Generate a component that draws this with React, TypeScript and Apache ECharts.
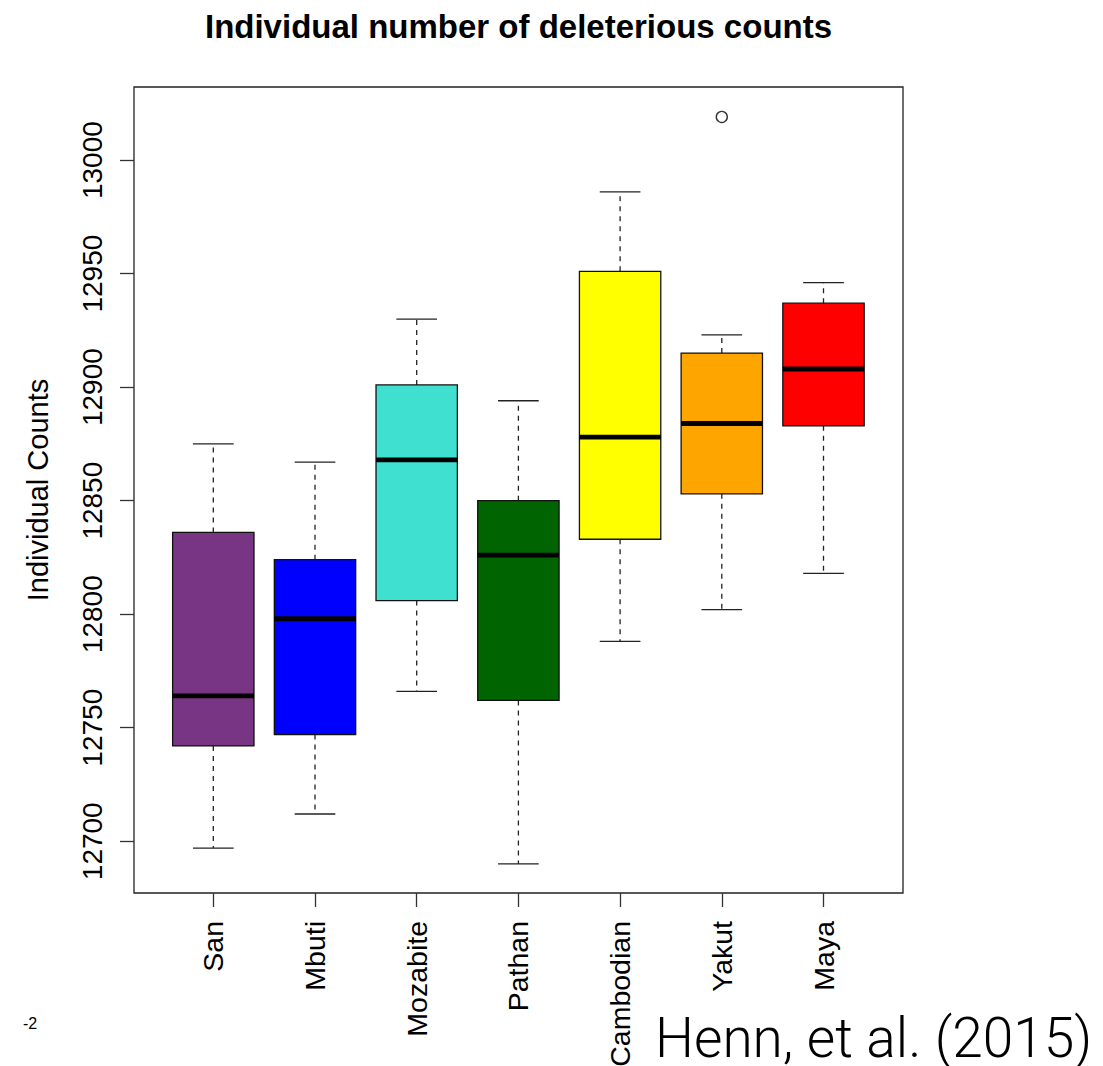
import React, { useEffect, useRef } from "react";
import * as echarts from "echarts";

const categories = ["San", "Mbuti", "Mozabite", "Pathan", "Cambodian", "Yakut", "Maya"];
const lowWhisker = [12697, 12712, 12766, 12690, 12788, 12802, 12818];
const q1Values = [12742, 12747, 12806, 12762, 12833, 12853, 12883];
const medianValues = [12764, 12798, 12868, 12826, 12878, 12884, 12908];
const q3Values = [12836, 12824, 12901, 12850, 12951, 12915, 12937];
const highWhisker = [12875, 12867, 12930, 12894, 12986, 12923, 12946];
const boxColors = ["#783584", "#0000FF", "#40E0D0", "#006400", "#FFFF00", "#FFA500", "#FF0000"];
const outliers: [string, number][] = [["Yakut", 13019]];
const yTicks = [12700, 12750, 12800, 12850, 12900, 12950, 13000];
const yMin = 12677.2;
const yMax = 13032.2;

const FONT = "Liberation Sans, Arial, Helvetica, sans-serif";

export default function App() {
  const ref = useRef<HTMLDivElement>(null);

  useEffect(() => {
    document.body.style.margin = "0";
    const chart = echarts.init(ref.current!, null, { renderer: "svg" });

    const boxData = categories.map((_, i) => [
      i,
      lowWhisker[i],
      q1Values[i],
      medianValues[i],
      q3Values[i],
      highWhisker[i],
    ]);

    const renderItem = (params: any, api: any) => {
      const idx = api.value(0);
      const lo = api.coord([idx, api.value(1)]);
      const q1 = api.coord([idx, api.value(2)]);
      const md = api.coord([idx, api.value(3)]);
      const q3 = api.coord([idx, api.value(4)]);
      const hi = api.coord([idx, api.value(5)]);
      const band = api.size([1, 0])[0];
      const bw = band * 0.8;
      const cw = bw * 0.5;
      const cx = lo[0];
      const color = boxColors[params.dataIndex];
      const lineStyle = { stroke: "#222", lineWidth: 1.3 };
      return {
        type: "group",
        children: [
          {
            type: "line",
            shape: { x1: cx, y1: q3[1], x2: cx, y2: hi[1] },
            style: { stroke: "#222", lineWidth: 1.3, lineDash: [5, 5] },
          },
          {
            type: "line",
            shape: { x1: cx, y1: q1[1], x2: cx, y2: lo[1] },
            style: { stroke: "#222", lineWidth: 1.3, lineDash: [5, 5] },
          },
          {
            type: "line",
            shape: { x1: cx - cw / 2, y1: hi[1], x2: cx + cw / 2, y2: hi[1] },
            style: lineStyle,
          },
          {
            type: "line",
            shape: { x1: cx - cw / 2, y1: lo[1], x2: cx + cw / 2, y2: lo[1] },
            style: lineStyle,
          },
          {
            type: "rect",
            shape: { x: cx - bw / 2, y: q3[1], width: bw, height: q1[1] - q3[1] },
            style: { fill: color, stroke: "#111", lineWidth: 1.3 },
          },
          {
            type: "line",
            shape: { x1: cx - bw / 2, y1: md[1], x2: cx + bw / 2, y2: md[1] },
            style: { stroke: "#000", lineWidth: 4.8 },
          },
        ],
      };
    };

    chart.setOption({
      animation: false,
      backgroundColor: "#ffffff",
      textStyle: { fontFamily: FONT },
      grid: [
        {
          left: 134,
          top: 87,
          width: 769,
          height: 806,
          show: true,
          borderColor: "#222",
          borderWidth: 1.3,
          backgroundColor: "transparent",
          containLabel: false,
          outerBoundsMode: "none",
        },
        {
          left: 162.45,
          top: 87,
          width: 711.9,
          height: 806,
          containLabel: false,
          outerBoundsMode: "none",
        },
      ],
      xAxis: [
        { type: "value", gridIndex: 0, show: false, min: 0, max: 1 },
        {
          type: "category",
          gridIndex: 1,
          data: categories,
          boundaryGap: true,
          axisLine: { show: false },
          axisTick: { show: true, alignWithLabel: true, length: 14, lineStyle: { color: "#333", width: 1.3 } },
          axisLabel: {
            rotate: 90,
            margin: 28,
            fontSize: 28.5,
            color: "#000",
            fontFamily: FONT,
            interval: 0,
          },
          splitLine: { show: false },
        },
      ],
      yAxis: [
        {
          type: "value",
          gridIndex: 0,
          min: yMin,
          max: yMax,
          name: "Individual Counts",
          nameLocation: "middle",
          nameRotate: 90,
          nameGap: 82,
          nameTextStyle: { fontSize: 29, color: "#000", fontFamily: FONT },
          axisLine: { show: false },
          axisTick: { show: true, length: 14, customValues: yTicks, lineStyle: { color: "#333", width: 1.3 } },
          axisLabel: {
            customValues: yTicks,
            rotate: 90,
            margin: 28,
            fontSize: 28,
            color: "#000",
            fontFamily: FONT,
            formatter: (v: number) => String(Math.round(v)),
          },
          splitLine: { show: false },
        },
        {
          type: "value",
          gridIndex: 1,
          min: yMin,
          max: yMax,
          show: false,
          splitLine: { show: false },
        },
      ],
      series: [
        {
          type: "custom",
          xAxisIndex: 1,
          yAxisIndex: 1,
          data: boxData,
          renderItem,
          encode: { x: 0, y: [1, 2, 3, 4, 5] },
          z: 2,
        },
        {
          type: "scatter",
          xAxisIndex: 1,
          yAxisIndex: 1,
          data: outliers,
          symbol: "circle",
          symbolSize: 11,
          itemStyle: { color: "#fff", borderColor: "#000", borderWidth: 1.4 },
          z: 3,
        },
      ],
      graphic: [
        {
          type: "text",
          x: 518.5,
          y: 26,
          style: {
            text: "Individual number of deleterious counts",
            fontSize: 33,
            fontWeight: "bold",
            fontFamily: FONT,
            fill: "#000",
            textAlign: "center",
            textVerticalAlign: "middle",
          },
        },
        {
          type: "text",
          x: 23,
          y: 1023,
          style: {
            text: "-2",
            fontSize: 16,
            fontFamily: FONT,
            fill: "#000",
            textAlign: "left",
            textVerticalAlign: "middle",
          },
        },
        {
          type: "text",
          x: 655,
          y: 1038,
          style: {
            text: "Henn, et al. (2015)",
            fontSize: 55,
            lineHeight: 48,
            fontWeight: 300,
            fontFamily: "Roboto, Liberation Sans, sans-serif",
            fill: "#000",
            textAlign: "left",
            textVerticalAlign: "middle",
          },
        },
      ],
    });

    return () => chart.dispose();
  }, []);

  return <div ref={ref} style={{ width: 1103, height: 1066, position: "absolute", left: 0, top: 0 }} />;
}
